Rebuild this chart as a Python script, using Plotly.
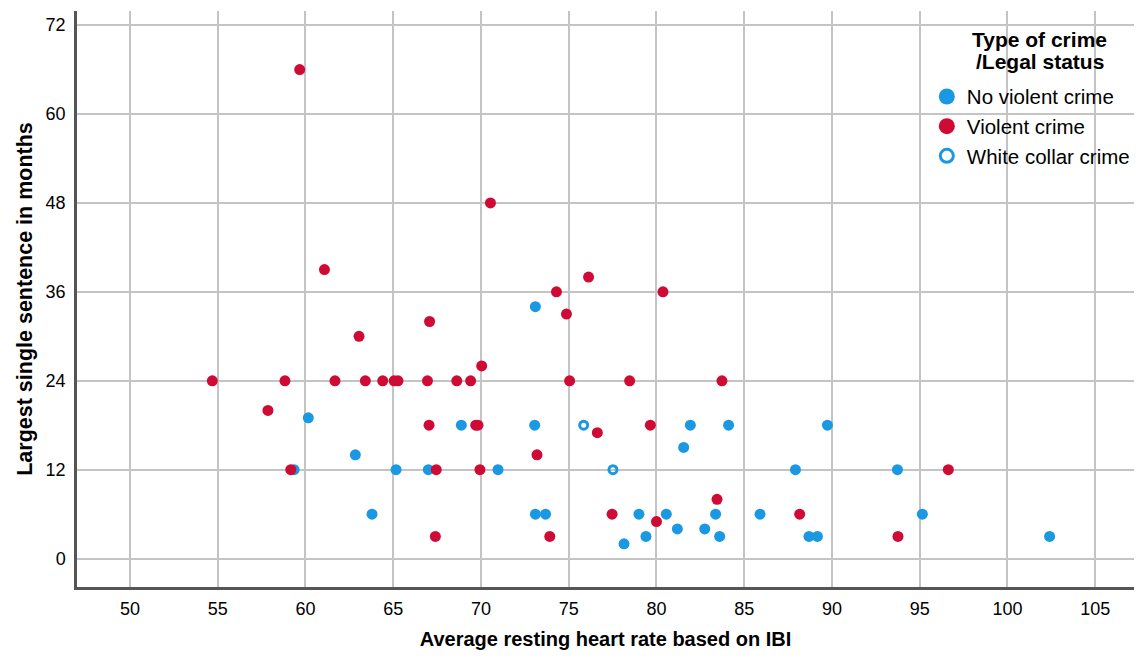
import plotly.graph_objects as go

# ---- Data ----
nonviolent_x = [59.35, 60.16, 62.84, 63.79, 65.16, 67.0, 68.88, 70.97, 73.1, 73.06,
                73.1, 73.68, 78.15, 79.0, 79.4, 80.56, 81.19, 81.55, 81.93, 82.75,
                83.37, 83.6, 84.11, 85.9, 87.92, 88.69, 89.17, 89.74, 93.73, 95.15, 102.4]
nonviolent_y = [12, 19, 14, 6, 12, 12, 18, 12, 34, 18,
                6, 6, 2, 6, 3, 6, 4, 15, 18, 4,
                6, 3, 18, 6, 12, 3, 3, 18, 12, 6, 3]

violent_x = [54.69, 57.86, 58.83, 59.16, 59.67, 61.08, 61.68, 63.05, 63.41, 64.4,
             65.05, 65.27, 66.95, 67.04, 67.07, 67.4, 67.45, 68.62, 69.41, 69.7,
             69.83, 69.94, 70.04, 70.54, 73.19, 73.92, 74.3, 74.87, 75.05, 76.13,
             76.63, 77.47, 78.47, 79.65, 80.0, 80.37, 83.45, 83.73, 88.16, 93.76, 96.63]
violent_y = [24, 20, 24, 12, 66, 39, 24, 30, 24, 24,
             24, 24, 24, 18, 32, 3, 12, 24, 24, 18,
             18, 12, 26, 48, 14, 3, 36, 33, 24, 38,
             17, 6, 24, 18, 5, 36, 8, 24, 6, 3, 12]

whitecollar_x = [75.85, 77.52]
whitecollar_y = [18, 12]

x_ticks = [50, 55, 60, 65, 70, 75, 80, 85, 90, 95, 100, 105]
y_ticks = [0, 12, 24, 36, 48, 60, 72]

legend_title_lines = ["Type of crime", "/Legal status"]

BLUE = "#1a98e2"
RED = "#cf0a35"
FONT = "Liberation Sans, Arial, Helvetica, sans-serif"

fig = go.Figure()

# plotted points (no legend)
fig.add_trace(go.Scatter(x=nonviolent_x, y=nonviolent_y, mode="markers",
                         marker=dict(size=11, color=BLUE), showlegend=False, hoverinfo="x+y"))
fig.add_trace(go.Scatter(x=violent_x, y=violent_y, mode="markers",
                         marker=dict(size=11, color=RED), showlegend=False, hoverinfo="x+y"))
fig.add_trace(go.Scatter(x=whitecollar_x, y=whitecollar_y, mode="markers",
                         marker=dict(size=8, symbol="circle-open", color=BLUE, line=dict(width=3, color=BLUE)),
                         showlegend=False, hoverinfo="x+y"))

# legend entries with bigger symbols
fig.add_trace(go.Scatter(x=[None], y=[None], mode="markers", name="No violent crime",
                         marker=dict(size=18, color=BLUE)))
fig.add_trace(go.Scatter(x=[None], y=[None], mode="markers", name="Violent crime",
                         marker=dict(size=18, color=RED)))
fig.add_trace(go.Scatter(x=[None], y=[None], mode="markers", name="White collar crime",
                         marker=dict(size=13, symbol="circle-open", color=BLUE, line=dict(width=3, color=BLUE))))

fig.update_layout(
    width=1126, height=642,
    margin=dict(l=69, r=0, t=3, b=63, autoexpand=False),
    paper_bgcolor="white", plot_bgcolor="white",
    font=dict(family=FONT, color="black", size=18),
    showlegend=True,
    legend=dict(
        x=0.804, y=0.886, xanchor="left", yanchor="top",
        bgcolor="rgba(0,0,0,0)",
        font=dict(size=20.5, family=FONT),
        itemsizing="trace",
        tracegroupgap=0,
    ),
)

# legend title as two tightly spaced lines
for txt, yy in zip(legend_title_lines, [0.9497, 0.9115]):
    fig.add_annotation(x=0.911, y=yy, xref="paper", yref="paper", text=f"<b>{txt}</b>",
                       showarrow=False, xanchor="center", yanchor="middle",
                       font=dict(size=21, family=FONT, color="black"))

fig.update_xaxes(
    range=[46.98, 107.21], tickvals=x_ticks, ticktext=[str(v) for v in x_ticks],
    showgrid=True, gridcolor="#c4c4c4", gridwidth=1.6,
    showline=True, linecolor="#555555", linewidth=2.5, zeroline=False,
    ticks="", tickfont=dict(size=18), ticklabelstandoff=4, automargin=False,
    title=dict(text="<b>Average resting heart rate based on IBI</b>", font=dict(size=20), standoff=19),
)
fig.update_yaxes(
    range=[-3.83, 73.9], tickvals=y_ticks, ticktext=[str(v) for v in y_ticks],
    showgrid=True, gridcolor="#c4c4c4", gridwidth=1.6,
    showline=True, linecolor="#555555", linewidth=2.5, zeroline=False,
    ticks="", tickfont=dict(size=18), ticklabelstandoff=5, automargin=False,
    title=dict(text="<b>Largest single sentence in months</b>", font=dict(size=21.5), standoff=8),
)

fig.write_html("out.html")
